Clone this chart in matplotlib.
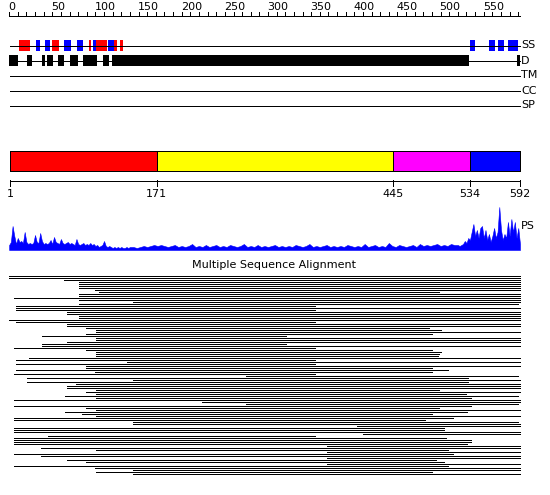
import matplotlib
matplotlib.use('Agg')
import matplotlib.pyplot as plt
from matplotlib.patches import Rectangle

seq_len = 592

# secondary structure: (start, end, kind)  H = helix red, E = strand blue
ss_elems = [(12, 24, 'H'), (31, 36, 'E'), (41, 47, 'E'), (50, 58, 'H'),
            (63, 72, 'E'), (79, 86, 'E'), (92, 95, 'H'), (97, 101, 'E'),
            (101, 113, 'H'), (115, 121, 'E'), (122, 125, 'H'), (128, 132, 'H'),
            (534, 540, 'E'), (556, 563, 'E'), (567, 573, 'E'), (578, 584, 'E'),
            (584, 590, 'E')]
# disorder segments
dis_elems = [(0, 10), (21, 27), (38, 41), (44, 51), (57, 64), (71, 80),
             (86, 102), (109, 116), (119, 533), (589, 592)]
track_names = ['SS', 'D', 'TM', 'CC', 'SP']

dom_bounds = [1, 171, 445, 534, 592]
dom_colors = ['#ff0000', '#ffff00', '#ff00ff', '#0000ff']

# PS profile (pixel heights); N-term every 2 res, middle every 4, C-term every 2
ps_left = [5, 8, 24, 14, 6, 12, 8, 9, 7, 18, 8, 6, 7, 6, 7, 15, 8, 7, 17, 9,
           6, 7, 6, 7, 10, 6, 13, 8, 7, 6, 11, 7, 6, 7, 8, 6, 7, 6, 5, 11,
           6, 5, 6, 7, 5, 6, 5, 7, 5, 6, 4, 5, 3, 4, 5, 9, 4, 3, 4, 3,
           2, 3, 2, 3, 2, 3, 2, 2, 3, 2, 3]
ps_mid = [3, 2, 3, 4, 3, 4, 5, 4, 5, 4, 3, 4, 5, 3, 4, 3, 4, 6, 3, 4,
          3, 5, 3, 4, 5, 3, 4, 3, 5, 4, 3, 4, 6, 3, 4, 3, 5, 3, 4, 3,
          4, 5, 3, 4, 3, 4, 3, 5, 4, 3, 4, 6, 3, 4, 3, 4, 5, 3, 4, 3,
          4, 3, 5, 4, 3, 4, 3, 6, 3, 4, 5, 3, 4, 3, 7, 4, 3, 5, 4, 3,
          4, 5, 3, 6, 4, 5, 4, 5, 6, 4, 5, 4, 6, 5]
ps_right = [5, 4, 5, 6, 9, 7, 12, 10, 18, 26, 14, 20, 12, 22, 24, 12, 20, 10, 16, 8,
            14, 22, 12, 18, 43, 20, 10, 16, 12, 28, 14, 31, 18, 28, 12, 22, 6]
ps_res = list(range(0, 141, 2)) + list(range(144, 517, 4)) + list(range(520, 593, 2))
ps_vals = ps_left + ps_mid + ps_right

# multiple sequence alignment rows (start, end) in residues, top to bottom
msa_top = [(0, 592), (0, 592), (64, 592), (81, 592), (81, 592), (81, 592),
           (81, 592), (99, 592), (104, 498), (81, 592), (81, 592), (6, 592),
           (81, 592), (143, 592), (81, 590), (8, 355), (8, 592), (8, 355),
           (67, 592), (67, 592), (81, 592), (81, 592), (0, 592), (8, 355),
           (67, 592), (67, 592), (89, 486), (101, 501), (101, 592), (89, 490),
           (38, 321), (101, 592), (101, 592), (67, 592), (38, 321), (38, 592),
           (6, 355), (89, 490), (101, 501), (101, 498), (101, 497), (23, 592),
           (8, 355), (137, 592), (8, 355), (89, 592), (89, 490), (8, 508)]
msa_bottom = [(99, 490), (6, 355), (275, 590), (21, 532), (143, 592), (21, 532),
              (77, 592), (67, 592), (67, 592), (101, 498), (89, 592), (101, 530),
              (65, 590), (101, 535), (6, 592), (223, 592), (275, 590), (6, 535),
              (89, 498), (101, 592), (65, 531), (84, 490), (101, 592), (6, 514),
              (6, 482), (144, 590), (144, 592), (403, 592), (6, 504), (6, 504),
              (6, 592), (410, 592), (45, 355), (6, 506), (6, 535), (6, 535),
              (6, 531), (368, 592), (37, 592), (101, 508), (368, 592), (6, 514),
              (37, 592), (368, 592), (67, 495), (89, 504), (368, 592), (6, 508),
              (99, 592), (144, 592), (101, 490), (144, 592)]
msa_rows = msa_top + msa_bottom

W, H = 550, 495
scale = 510 / 591.0
fig = plt.figure(figsize=(W / 100, H / 100), dpi=100)
ax = fig.add_axes([0, 0, 1, 1])
ax.set_xlim(1 - 10 / scale, 1 + (W - 10) / scale)
ax.set_ylim(H, 0)
ax.axis('off')
px = 1 / scale  # one pixel in residue units
fs = 8
lw1 = 0.72  # one pixel


def hline(x0, x1, y, **kw):
    ax.plot([x0, x1], [y + 0.5, y + 0.5], color='black', lw=lw1,
            solid_capstyle='butt', antialiased=False, **kw)


# ruler
hline(0, seq_len, 15)
for r in range(0, seq_len + 1, 10):
    ax.plot([r, r], [12, 16], color='black', lw=lw1, antialiased=False)
for r in range(0, seq_len, 50):
    ax.text(r - px, 11.5, str(r), fontsize=fs, ha='left', va='bottom')

# tracks
track_y = [45, 60, 75, 90, 105]
for y, name in zip(track_y, track_names):
    hline(1, seq_len, y)
    ax.text(seq_len + px, y + 0.5, name, fontsize=fs, ha='left', va='center')

for s, e, k in ss_elems:
    c = '#ff0000' if k == 'H' else '#0000ff'
    ax.add_patch(Rectangle((s, 40), e - s, 11, facecolor=c, edgecolor='none',
                           antialiased=False))
for s, e in dis_elems:
    ax.add_patch(Rectangle((s, 55), e - s, 11, facecolor='black', edgecolor='none',
                           antialiased=False))

# domain bar
for i, c in enumerate(dom_colors):
    s, e = dom_bounds[i], dom_bounds[i + 1]
    ax.add_patch(Rectangle((s, 150.5), e - s, 20, facecolor=c, edgecolor='black',
                           lw=lw1, antialiased=False))
hline(1, seq_len, 180)
for b in dom_bounds:
    ax.plot([b, b], [180, 186], color='black', lw=lw1, antialiased=False)
    ax.text(b, 189, str(b), fontsize=fs, ha='center', va='top')

# PS profile
base = 250
ax.fill_between(ps_res, [base - v for v in ps_vals], base, color='#0000ff', lw=0.4)
ax.text(seq_len + px, 226, 'PS', fontsize=fs, ha='left', va='center')

# MSA
ax.text(307, 265, 'Multiple Sequence Alignment', fontsize=fs, ha='center', va='center')
for i, (s, e) in enumerate(msa_rows):
    hline(s, e, 275 + 2 * i)

fig.savefig('out.png', dpi=100)
